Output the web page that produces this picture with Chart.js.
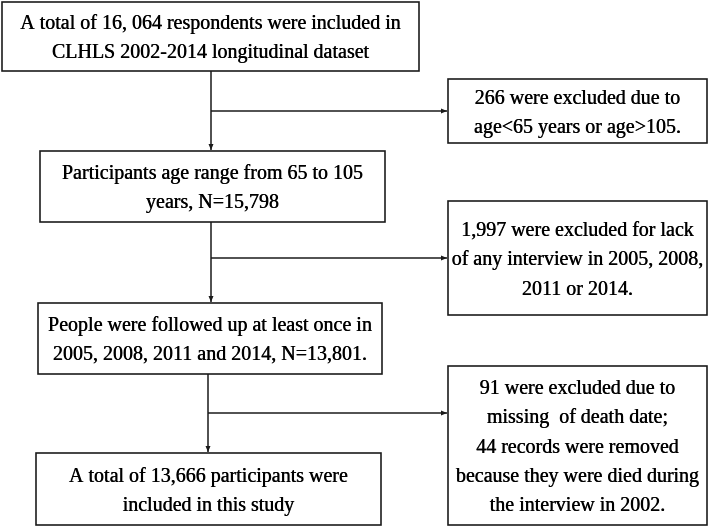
<!DOCTYPE html>
<html>
<head>
<meta charset="utf-8">
<script src="https://cdn.jsdelivr.net/npm/chart.js@4.4.1/dist/chart.umd.min.js"></script>
<style>
  html, body { margin: 0; padding: 0; background: #fff; }
  #wrap { width: 708px; height: 527px; font-family: 'Liberation Serif', serif; }
</style>
</head>
<body>
<div id="wrap"><canvas id="flow" width="708" height="527"></canvas></div>
<script>
// Texto de cada caja del diagrama (columna principal y exclusiones)
const mainTexts = [
  ["A total of 16, 064 respondents were included in", "CLHLS 2002-2014 longitudinal dataset"],
  ["Participants age range from 65 to 105", "years, N=15,798"],
  ["People were followed up at least once in", "2005, 2008, 2011 and 2014, N=13,801."],
  ["A total of 13,666 participants were", "included in this study"]
];
const excludedTexts = [
  ["266 were excluded due to", "age<65 years or age>105."],
  ["1,997 were excluded for lack", "of any interview in 2005, 2008,", "2011 or 2014."],
  ["91 were excluded due to", "missing  of death date;", "44 records were removed", "because they were died during", "the interview in 2002."]
];

// Geometria en unidades de las escalas (x 0-708, y 0-527)
const mainBoxes = [
  { x1: 2, x2: 419, y1: 2, y2: 71 },
  { x1: 40, x2: 385, y1: 151, y2: 222 },
  { x1: 38, x2: 382, y1: 303, y2: 374 },
  { x1: 36, x2: 381, y1: 453, y2: 525 }
];
const sideBoxes = [
  { x1: 448, x2: 707, y1: 79, y2: 143 },
  { x1: 448, x2: 707, y1: 201, y2: 315 },
  { x1: 448, x2: 707, y1: 366, y2: 525 }
];
const spineX = [211, 211, 208];
const branchY = [111, 258, 413];

const INK = "#1a1a1a";
const FONT = "20px 'Liberation Serif', 'Times New Roman', serif";
const LINE_H = 29.3;

// conectores como datasets de linea
const datasets = [];
for (let i = 0; i < 3; i++) {
  datasets.push({
    data: [{ x: spineX[i], y: mainBoxes[i].y2 }, { x: spineX[i], y: mainBoxes[i + 1].y1 - 1 }],
    arrow: true
  });
  datasets.push({
    data: [{ x: spineX[i], y: branchY[i] }, { x: sideBoxes[i].x1 - 1, y: branchY[i] }],
    arrow: true
  });
}

const flowPlugin = {
  id: "flow",
  beforeDraw(chart) {
    const ctx = chart.ctx;
    ctx.save();
    ctx.fillStyle = "#fff";
    ctx.fillRect(0, 0, chart.width, chart.height);
    ctx.restore();
  },
  afterDatasetsDraw(chart) {
    const { ctx, scales } = chart;
    const xs = scales.x, ys = scales.y;
    ctx.save();
    ctx.font = FONT;
    ctx.textAlign = "center";
    ctx.textBaseline = "middle";
    const boxes = mainBoxes.map((b, i) => [b, mainTexts[i]])
      .concat(sideBoxes.map((b, i) => [b, excludedTexts[i]]));
    boxes.forEach(([b, txt]) => {
      ctx.strokeStyle = INK;
      ctx.lineWidth = 1.6;
      const l = xs.getPixelForValue(b.x1), r = xs.getPixelForValue(b.x2);
      const t = ys.getPixelForValue(b.y1), bt = ys.getPixelForValue(b.y2);
      ctx.strokeRect(l, t, r - l, bt - t);
      ctx.fillStyle = "#000";
      const cy = (t + bt) / 2;
      const start = cy - (txt.length - 1) * LINE_H / 2;
      txt.forEach((line, k) => {
        const y = start + k * LINE_H + 2;
        const cx = (l + r) / 2;
        // dos pasadas desplazadas para engrosar los trazos verticales
        ctx.fillText(line, cx - 0.25, y);
        ctx.fillText(line, cx + 0.25, y);
      });
    });

    // puntas de flecha
    ctx.fillStyle = INK;
    chart.data.datasets.forEach((ds) => {
      if (!ds.arrow) return;
      const p0 = ds.data[0], p1 = ds.data[1];
      const x0 = xs.getPixelForValue(p0.x), y0 = ys.getPixelForValue(p0.y);
      const x1 = xs.getPixelForValue(p1.x), y1 = ys.getPixelForValue(p1.y);
      const ang = Math.atan2(y1 - y0, x1 - x0);
      const len = 6, half = 2.5;
      ctx.beginPath();
      ctx.moveTo(x1, y1);
      ctx.lineTo(x1 - len * Math.cos(ang) + half * Math.sin(ang), y1 - len * Math.sin(ang) - half * Math.cos(ang));
      ctx.lineTo(x1 - len * Math.cos(ang) - half * Math.sin(ang), y1 - len * Math.sin(ang) + half * Math.cos(ang));
      ctx.closePath();
      ctx.fill();
    });
    ctx.restore();
  }
};

const drawChart = () => {
  new Chart(document.getElementById("flow"), {
    type: "scatter",
    data: { datasets },
    options: {
      responsive: false,
      animation: false,
      layout: { padding: 0 },
      elements: {
        point: { radius: 0, hoverRadius: 0 },
        line: { borderColor: INK, borderWidth: 1.5 }
      },
      datasets: { scatter: { showLine: true, borderColor: INK, borderWidth: 1.5 } },
      scales: {
        x: { type: "linear", min: 0, max: 708, display: false },
        y: { type: "linear", min: 0, max: 527, reverse: true, display: false }
      },
      plugins: { legend: { display: false }, tooltip: { enabled: false } }
    },
    plugins: [flowPlugin]
  });
};

// esperar a que la fuente este lista antes de dibujar
document.fonts.load(FONT).then(drawChart, drawChart);
</script>
</body>
</html>
